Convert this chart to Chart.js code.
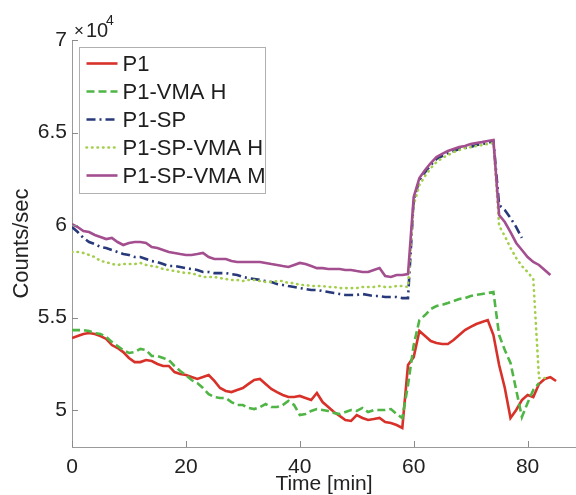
<!DOCTYPE html>
<html>
<head>
<meta charset="utf-8">
<script src="https://cdn.jsdelivr.net/npm/chart.js@4.4.1/dist/chart.umd.min.js"></script>
<style>
  html, body { margin: 0; padding: 0; background: #fff; }
</style>
</head>
<body>
<canvas id="countsChart" width="576" height="495"></canvas>
<script>
// Time axis (minutes)
const minutes = [
  0, 1, 2, 3, 4, 5, 6, 7, 8, 9, 10, 11, 12, 13, 14, 15, 16, 17, 18, 19,
  20, 21, 22, 23, 24, 25, 26, 27, 28, 29, 30, 31, 32, 33, 34, 35, 36, 37, 38, 39,
  40, 41, 42, 43, 44, 45, 46, 47, 48, 49, 50, 51, 52, 53, 54, 55, 56, 57, 58, 59,
  60, 61, 62, 63, 64, 65, 66, 67, 68, 69, 70, 71, 72, 73, 74, 75, 76, 77, 78, 79,
  80, 81, 82, 83, 84, 85
];

// Counts/sec for each run
const p1 = [
  53890, 54000, 54110, 54160, 54110, 54000, 53840, 53510, 53350, 53130,
  52810, 52590, 52590, 52700, 52650, 52490, 52380, 52380, 52050, 51950,
  51890, 51780, 51680, 51780, 51890, 51570, 51190, 51030, 50970, 51080,
  51190, 51410, 51620, 51680, 51410, 51140, 50970, 50810, 50700, 50700,
  50760, 50650, 50540, 50920, 50430, 50160, 49890, 49680, 49460, 49410,
  49730, 49570, 49460, 49510, 49570, 49350, 49300, 49190, 49030, 52430,
  52860, 54270, 54000, 53730, 53620, 53570, 53570, 53780, 54050, 54320,
  54490, 54650, 54760, 54860, 54050, 52430, 51190, 49570, 50000, 50540,
  50810, 50700, 51410, 51680, 51780, 51570
];
const p1VmaH = [
  54320, 54320, 54320, 54270, 54160, 54110, 53950, 53680, 53460, 53240,
  53080, 53130, 53300, 53240, 52920, 52920, 52810, 52700, 52380, 52110,
  51890, 51620, 51460, 51190, 50860, 50700, 50650, 50650, 50430, 50270,
  50270, 50110, 50050, 50160, 50320, 50160, 50160, 50270, 50490, 50270,
  49730, 49780, 49950, 50050, 50000, 49950, 49840, 49780, 49890, 50000,
  49950, 50110, 49890, 50000, 50000, 50000, 50050, 49780, 49570, 51350,
  53510, 54860, 55130, 55460, 55620, 55680, 55780, 55890, 56000, 56050,
  56160, 56220, 56270, 56320, 56380, 54050, 53240, 52540, 51080, 49620,
  50380, 51080, 51460, null, null, null
];
const p1Sp = [
  59890, 59620, 59300, 59080, 58970, 58810, 58760, 58650, 58540, 58430,
  58380, 58270, 58270, 58160, 58050, 58000, 57890, 57780, 57780, 57730,
  57670, 57620, 57570, 57460, 57460, 57400, 57400, 57400, 57350, 57300,
  57190, 57130, 57080, 57030, 56970, 56920, 56810, 56760, 56700, 56650,
  56590, 56540, 56490, 56490, 56430, 56380, 56320, 56270, 56220, 56220,
  56220, 56270, 56220, 56160, 56160, 56110, 56110, 56110, 56050, 56050,
  61350, 62430, 62860, 63240, 63570, 63730, 63890, 64000, 64110, 64160,
  64210, 64320, 64380, 64430, 64540, 61080, 60810, 60380, 59890, 59300,
  null, null, null, null, null, null
];
const p1SpVmaH = [
  58540, 58540, 58490, 58380, 58270, 58050, 58000, 57890, 57840, 57890,
  57890, 57890, 57950, 57840, 57780, 57730, 57620, 57570, 57510, 57460,
  57400, 57400, 57300, 57190, 57190, 57190, 57130, 57080, 57030, 57030,
  56970, 57030, 57030, 56970, 56920, 56920, 56970, 56970, 56860, 56860,
  56760, 56760, 56700, 56700, 56700, 56650, 56650, 56590, 56590, 56590,
  56590, 56650, 56650, 56650, 56700, 56650, 56650, 56700, 56700, 56650,
  61080, 62160, 62650, 63080, 63400, 63620, 63780, 63940, 64050, 64160,
  64210, 64270, 64320, 64380, 64430, 59950, 59400, 58760, 58220, 57780,
  57460, 57080, 51730, 51730, null, null
];
const p1SpVmaM = [
  60050, 59890, 59670, 59620, 59460, 59350, 59240, 59300, 59080, 58920,
  59030, 59080, 59080, 59030, 58810, 58760, 58650, 58540, 58490, 58430,
  58380, 58380, 58430, 58490, 58270, 58160, 58160, 58160, 58050, 58000,
  58000, 58000, 58000, 58000, 57950, 57890, 57840, 57780, 57730, 57840,
  57950, 57890, 57780, 57670, 57670, 57620, 57620, 57620, 57570, 57570,
  57510, 57460, 57460, 57570, 57670, 57240, 57190, 57300, 57300, 57350,
  61510, 62540, 62970, 63350, 63670, 63840, 64000, 64110, 64210, 64270,
  64380, 64430, 64480, 64540, 64590, 60540, 60160, 59620, 59030, 58650,
  58270, 58000, 57840, 57570, 57300, null
];

const seriesNames = ["P1", "P1-VMA H", "P1-SP", "P1-SP-VMA H", "P1-SP-VMA M"];
const xTicks = [0, 20, 40, 60, 80];
const yTicks = [50000, 55000, 60000, 65000, 70000];

const FONT = "'Liberation Sans', Arial, Helvetica, sans-serif";

function toPoints(values) {
  const pts = [];
  values.forEach((v, i) => {
    if (v !== null) pts.push({ x: minutes[i], y: v });
  });
  return pts;
}

function makeSet(label, values, color, dash, cap, order) {
  return {
    label: label,
    data: toPoints(values),
    borderColor: color,
    backgroundColor: color,
    borderWidth: 2.6,
    borderDash: dash,
    borderCapStyle: cap,
    pointRadius: 0,
    tension: 0,
    fill: false,
    order: order
  };
}

// inward tick marks like the original figure
const innerTicks = {
  id: "innerTicks",
  afterDraw(chart) {
    const { ctx, chartArea, scales } = chart;
    ctx.save();
    ctx.strokeStyle = "#8a8a8a";
    ctx.lineWidth = 1;
    ctx.beginPath();
    yTicks.forEach(v => {
      const y = Math.round(scales.y.getPixelForValue(v)) + 0.5;
      ctx.moveTo(chartArea.left, y);
      ctx.lineTo(chartArea.left + 6, y);
    });
    xTicks.forEach(v => {
      const x = Math.round(scales.x.getPixelForValue(v)) + 0.5;
      ctx.moveTo(x, chartArea.bottom);
      ctx.lineTo(x, chartArea.bottom - 6);
    });
    ctx.stroke();
    ctx.restore();
  }
};

// "x 10^4" exponent label at top of y axis
const exponentLabel = {
  id: "exponentLabel",
  afterDraw(chart) {
    const { ctx, chartArea } = chart;
    ctx.save();
    ctx.fillStyle = "#222";
    ctx.textBaseline = "alphabetic";
    ctx.textAlign = "left";
    ctx.font = "17px " + FONT;
    ctx.fillText("\u00d7", chartArea.left + 2, chartArea.top - 4);
    ctx.font = "20px " + FONT;
    ctx.fillText("10", chartArea.left + 14, chartArea.top - 3);
    ctx.font = "14px " + FONT;
    ctx.fillText("4", chartArea.left + 34, chartArea.top - 15);
    ctx.restore();
  }
};

// boxed legend in upper left of plot
const boxLegend = {
  id: "boxLegend",
  afterDraw(chart) {
    const { ctx, chartArea } = chart;
    const left = chartArea.left + 7.5;
    const top = chartArea.top + 7.5;
    const w = 186, h = 146;
    ctx.save();
    ctx.fillStyle = "#fff";
    ctx.fillRect(left, top, w, h);
    ctx.strokeStyle = "#b0b0b0";
    ctx.lineWidth = 1;
    ctx.strokeRect(left, top, w, h);
    ctx.font = "22px " + FONT;
    ctx.textBaseline = "middle";
    ctx.textAlign = "left";
    chart.data.datasets.forEach((ds, i) => {
      const y = top + 16 + i * 28;
      ctx.beginPath();
      ctx.strokeStyle = ds.borderColor;
      ctx.lineWidth = ds.borderWidth;
      ctx.lineCap = ds.borderCapStyle;
      ctx.setLineDash(ds.borderDash);
      ctx.moveTo(left + 7, y);
      ctx.lineTo(left + 38, y);
      ctx.stroke();
      ctx.setLineDash([]);
      ctx.fillStyle = "#1e1e1e";
      ctx.fillText(ds.label, left + 43, y + 1);
    });
    ctx.restore();
  }
};

const ctx = document.getElementById("countsChart").getContext("2d");

const chart = new Chart(ctx, {
  type: "line",
  data: {
    datasets: [
      makeSet(seriesNames[0], p1, "#d7312a", [], "butt", 4),
      makeSet(seriesNames[1], p1VmaH, "#4fb545", [8, 4], "butt", 3),
      makeSet(seriesNames[2], p1Sp, "#27397a", [9, 4, 2, 4], "butt", 2),
      makeSet(seriesNames[3], p1SpVmaH, "#a4cf4c", [0.5, 5], "round", 1),
      makeSet(seriesNames[4], p1SpVmaM, "#a34e8f", [], "butt", 0)
    ]
  },
  options: {
    responsive: false,
    animation: false,
    devicePixelRatio: 1,
    layout: { padding: { top: 40, left: 0, right: 0, bottom: 0 } },
    plugins: {
      legend: { display: false },
      tooltip: { enabled: false }
    },
    scales: {
      x: {
        type: "linear",
        min: 0,
        max: 88.5,
        afterBuildTicks: s => { s.ticks = xTicks.map(v => ({ value: v })); },
        afterFit: s => { s.height = 48; },
        grid: { display: false, drawTicks: false },
        border: { display: true, color: "#9a9a9a", width: 1 },
        ticks: {
          color: "#222",
          padding: 8,
          maxRotation: 0,
          font: { family: FONT, size: 21 }
        },
        title: {
          display: true,
          text: "Time [min]",
          color: "#222",
          padding: 0,
          font: { family: FONT, size: 21, lineHeight: 1 }
        }
      },
      y: {
        type: "linear",
        min: 48000,
        max: 70000,
        afterBuildTicks: s => { s.ticks = yTicks.map(v => ({ value: v })); },
        afterFit: s => { s.width = 72; },
        grid: { display: false, drawTicks: false },
        border: { display: true, color: "#9a9a9a", width: 1 },
        ticks: {
          color: "#222",
          padding: 5,
          font: { family: FONT, size: 21 },
          callback: v => String(v / 10000)
        },
        title: {
          display: true,
          text: "Counts/sec",
          color: "#222",
          padding: { top: 11, bottom: 0 },
          font: { family: FONT, size: 22, lineHeight: 1 }
        }
      }
    }
  },
  plugins: [innerTicks, exponentLabel, boxLegend]
});
</script>
</body>
</html>
